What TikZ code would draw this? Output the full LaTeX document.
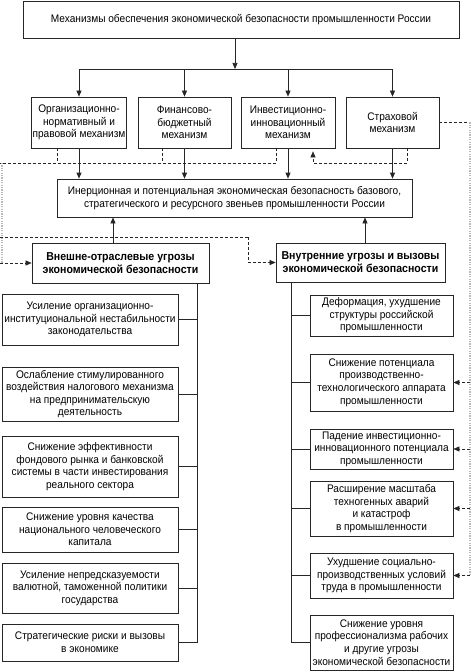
\documentclass[tikz,border=0pt]{standalone}
\usepackage{fontspec}
\setmainfont{Liberation Sans}[FakeStretch=0.92]
\usetikzlibrary{arrows.meta}
\begin{document}
\begin{tikzpicture}[x=1pt,y=-1pt,
  font=\fontsize{11}{12.6}\selectfont,
  bx/.style={draw=black!85, line width=0.7pt, align=center, inner sep=1pt},
  bb/.style={bx, font=\fontsize{11.5}{13}\selectfont\bfseries},
  ln/.style={black!85, line width=0.7pt},
  arr/.style={black!85, line width=0.7pt, -{Triangle[length=6pt,width=5pt]}},
  dsh/.style={black!85, line width=0.6pt, dash pattern=on 3pt off 2pt},
  dtip/.style={dsh, -{Triangle[length=6pt,width=5pt]}},
  dotl/.style={gray!55, line width=1.5pt, dash pattern=on 1.2pt off 1.2pt}]
\useasboundingbox (0,0) rectangle (474,671);

% top
\node[bx, minimum width=436, minimum height=37] (top) at (241,19.5)
  {Механизмы обеспечения экономической безопасности промышленности России};

% mechanisms
\node[bx, minimum width=94, minimum height=51] (m1) at (79,122.5)
  {Организационно-\\нормативный и\\правовой механизм};
\node[bx, minimum width=93, minimum height=51] (m2) at (184.5,122.5)
  {Финансово-\\бюджетный\\механизм};
\node[bx, minimum width=94, minimum height=51] (m3) at (288,122.5)
  {Инвестиционно-\\инновационный\\механизм};
\node[bx, minimum width=93, minimum height=51] (m4) at (392.5,122.5)
  {Страховой\\механизм};

% inertial
\node[bx, minimum width=355, minimum height=38] (inr) at (234.5,198)
  {Инерционная и потенциальная экономическая безопасность базового,\\стратегического и ресурсного звеньев промышленности России};

% threats
\node[bb, minimum width=177, minimum height=40] (ext) at (120.5,263)
  {Внешне-отраслевые угрозы\\экономической безопасности};
\node[bb, minimum width=169, minimum height=39] (int) at (360.5,262.5)
  {Внутренние угрозы и вызовы\\экономической безопасности};

% left list
\node[bx, minimum width=176, minimum height=51] (l1) at (90,319.5)
  {Усиление организационно-\\институциональной нестабильности\\законодательства};
\node[bx, minimum width=176, minimum height=54] (l2) at (90,394)
  {Ослабление стимулированного\\воздействия налогового механизма\\на предпринимательскую\\деятельность};
\node[bx, minimum width=176, minimum height=61] (l3) at (90,466.5)
  {Снижение эффективности\\фондового рынка и банковской\\системы в части инвестирования\\реального сектора};
\node[bx, minimum width=176, minimum height=45] (l4) at (90,529.5)
  {Снижение уровня качества\\национального человеческого\\капитала};
\node[bx, minimum width=176, minimum height=50] (l5) at (90,588)
  {Усиление непредсказуемости\\валютной, таможенной политики\\государства};
\node[bx, minimum width=176, minimum height=37] (l6) at (90,642.5)
  {Стратегические риски и вызовы\\в экономике};

% right list
\node[bx, minimum width=143, minimum height=41] (r1) at (381.5,315.5)
  {Деформация, ухудшение\\структуры российской\\промышленности};
\node[bx, minimum width=143, minimum height=57] (r2) at (381.5,382.5)
  {Снижение потенциала\\производственно-\\технологического аппарата\\промышленности};
\node[bx, minimum width=143, minimum height=40] (r3) at (381.5,449)
  {Падение инвестиционно-\\инновационного потенциала\\промышленности};
\node[bx, minimum width=143, minimum height=55] (r4) at (381.5,508.5)
  {Расширение масштаба\\техногенных аварий\\и катастроф\\в промышленности};
\node[bx, minimum width=143, minimum height=45] (r5) at (381.5,575.5)
  {Ухудшение социально-\\производственных условий\\труда в промышленности};
\node[bx, minimum width=143, minimum height=55] (r6) at (381.5,642.5)
  {Снижение уровня\\профессионализма рабочих\\и другие угрозы\\экономической безопасности};

% coordinates
\coordinate (bc) at (235,69);
\coordinate (d1) at (57,163);
\coordinate (d2) at (162,163);
\coordinate (d3) at (276,163);
\coordinate (dl) at (0,163);
\coordinate (dv) at (2,163);
\coordinate (e1) at (2,237);
\coordinate (e2) at (248,237);
\coordinate (g1) at (407,163);
\coordinate (g2) at (313,163);
\coordinate (h1) at (470,122.5);
\coordinate (a1) at (113,0);
\coordinate (a2) at (365,0);
\coordinate (lv) at (197,283);
\coordinate (rv) at (291,283);

% top bus
\draw[arr] (top.south -| bc) -- (bc);
\draw[ln] (m1.north |- bc) -- (m4.north |- bc);
\foreach \m in {m1,m2,m3,m4} \draw[arr] (\m.north |- bc) -- (\m.north);
\foreach \m in {m1,m2,m3,m4} \draw[arr] (\m.south) -- (\m.south |- inr.north);

% threats up
\draw[arr] (ext.north -| a1) -- (inr.south -| a1);
\draw[arr] (int.north -| a2) -- (inr.south -| a2);

% dashed from mechanisms (left)
\draw[dsh] (d1 |- m1.south) -- (d1);
\draw[dsh] (d2 |- m2.south) -- (d2);
\draw[dsh] (d3 |- m3.south) -- (d3) -- (dl);
\draw[dotl] (dv) -- (dv |- ext.west);
\draw[dtip] (dl |- ext.west) -- (ext.west);
\draw[dsh] (e1 -| dl) -- (e2);
\draw[dtip] (e2) -- (e2 |- int.west) -- (int.west);

% dashed from insurance to investment
\draw[dtip, shorten >=3pt] (g1 |- m4.south) -- (g1) -- (g2) -- (g2 |- m3.south);

% dashed right
\draw[dsh] (m4.east) -- (h1);
\draw[dotl] (h1) -- (h1 |- r5.east);
\foreach \r in {r2,r3,r4,r5} \draw[dtip] (h1 |- \r.east) -- (\r.east);

% left tree
\draw[ln] (lv) -- (lv |- l6.east);
\foreach \l in {l1,l2,l3,l4,l5,l6} \draw[ln] (\l.east) -- (\l.east -| lv);

% right tree
\draw[ln] (rv |- int.south) -- (rv |- r6.west);
\foreach \r in {r1,r2,r3,r4,r5,r6} \draw[ln] (\r.west -| rv) -- (\r.west);
\end{tikzpicture}
\end{document}
